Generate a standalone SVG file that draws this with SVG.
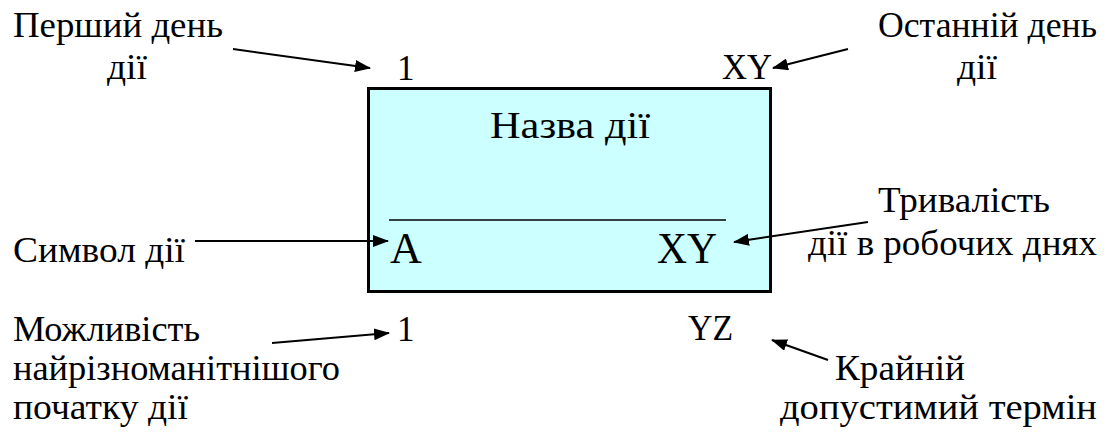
<svg xmlns="http://www.w3.org/2000/svg" width="1108" height="432" viewBox="0 0 1108 432" xml:lang="uk">
<defs>
<marker id="ah" markerUnits="userSpaceOnUse" markerWidth="16" markerHeight="12" refX="15" refY="6" orient="auto">
<path d="M0,0 L16,6 L0,12 Z" fill="#000"/>
</marker>
</defs>
<g id="activity">
<rect x="368.5" y="88.5" width="402" height="203" fill="#CCFFFF" stroke="#000" stroke-width="3"/>
<line x1="389" y1="220" x2="726" y2="220" stroke="#000" stroke-width="1.6"/>
<text x="490" y="138" font-family="Liberation Serif, Tinos, Times New Roman, serif" font-size="38" textLength="160" lengthAdjust="spacingAndGlyphs">Назва дії</text>
<text x="390" y="263" font-family="Liberation Serif, Tinos, Times New Roman, serif" font-size="44">A</text>
<text x="657" y="263" font-family="Liberation Serif, Tinos, Times New Roman, serif" font-size="44" textLength="60" lengthAdjust="spacingAndGlyphs">XY</text>
</g>
<g id="first-day">
<text x="13" y="37" font-family="Liberation Serif, Tinos, Times New Roman, serif" font-size="35" textLength="210" lengthAdjust="spacingAndGlyphs">Перший день</text>
<text x="107" y="79" font-family="Liberation Serif, Tinos, Times New Roman, serif" font-size="35" textLength="40" lengthAdjust="spacingAndGlyphs">дії</text>
<text x="397" y="80" font-family="Liberation Serif, Tinos, Times New Roman, serif" font-size="35">1</text>
</g>
<g id="last-day">
<text x="878" y="37" font-family="Liberation Serif, Tinos, Times New Roman, serif" font-size="35" textLength="219" lengthAdjust="spacingAndGlyphs">Останній день</text>
<text x="957" y="79" font-family="Liberation Serif, Tinos, Times New Roman, serif" font-size="35" textLength="40" lengthAdjust="spacingAndGlyphs">дії</text>
<text x="722" y="79" font-family="Liberation Serif, Tinos, Times New Roman, serif" font-size="35" textLength="50" lengthAdjust="spacingAndGlyphs">XY</text>
</g>
<g id="symbol">
<text x="13" y="262" font-family="Liberation Serif, Tinos, Times New Roman, serif" font-size="35" textLength="172" lengthAdjust="spacingAndGlyphs">Символ дії</text>
</g>
<g id="duration">
<text x="878" y="212" font-family="Liberation Serif, Tinos, Times New Roman, serif" font-size="35" textLength="172" lengthAdjust="spacingAndGlyphs">Тривалість</text>
<text x="808" y="255" font-family="Liberation Serif, Tinos, Times New Roman, serif" font-size="35" textLength="289" lengthAdjust="spacingAndGlyphs">дії в робочих днях</text>
</g>
<g id="earliest">
<text x="13" y="341" font-family="Liberation Serif, Tinos, Times New Roman, serif" font-size="35" textLength="187" lengthAdjust="spacingAndGlyphs">Можливість</text>
<text x="13" y="380" font-family="Liberation Serif, Tinos, Times New Roman, serif" font-size="35" textLength="327" lengthAdjust="spacingAndGlyphs">найрізноманітнішого</text>
<text x="13" y="419" font-family="Liberation Serif, Tinos, Times New Roman, serif" font-size="35" textLength="175" lengthAdjust="spacingAndGlyphs">початку дії</text>
<text x="397" y="341" font-family="Liberation Serif, Tinos, Times New Roman, serif" font-size="35">1</text>
</g>
<g id="deadline">
<text x="688" y="340" font-family="Liberation Serif, Tinos, Times New Roman, serif" font-size="35" textLength="45" lengthAdjust="spacingAndGlyphs">YZ</text>
<text x="835" y="380" font-family="Liberation Serif, Tinos, Times New Roman, serif" font-size="35" textLength="130" lengthAdjust="spacingAndGlyphs">Крайній</text>
<text x="780" y="419" font-family="Liberation Serif, Tinos, Times New Roman, serif" font-size="35" textLength="317" lengthAdjust="spacingAndGlyphs">допустимий термін</text>
</g>
<g id="connectors" stroke="#000" stroke-width="2" fill="none">
<line x1="233" y1="49" x2="370" y2="68" marker-end="url(#ah)"/>
<line x1="848" y1="49" x2="773" y2="68" marker-end="url(#ah)"/>
<line x1="195" y1="241" x2="388" y2="241" marker-end="url(#ah)"/>
<line x1="868" y1="222" x2="734" y2="242" marker-end="url(#ah)"/>
<line x1="272" y1="343" x2="389" y2="333" marker-end="url(#ah)"/>
<line x1="828" y1="360" x2="772" y2="340" marker-end="url(#ah)"/>
</g>
</svg>
